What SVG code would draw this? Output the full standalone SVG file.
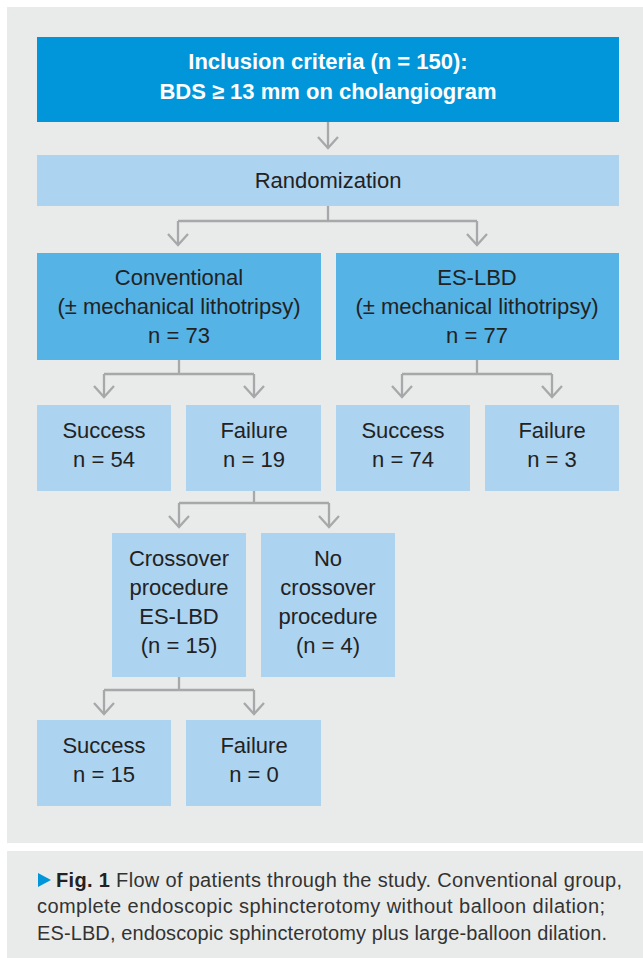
<svg xmlns="http://www.w3.org/2000/svg" width="643" height="958" viewBox="0 0 643 958">
<defs>
<style>
.t{font-family:"Liberation Sans",Arial,sans-serif;font-size:22px;fill:#222;text-anchor:middle}
.w{fill:#fff;font-weight:bold}
.dark{fill:#0096d9}
.mid{fill:#55b3e5}
.light{fill:#acd3f0}
.c{fill:none;stroke:#a6a8a9;stroke-width:2.3}
.cap{font-family:"Liberation Sans",Arial,sans-serif;font-size:20px;fill:#333}
</style>
<marker id="ah" markerWidth="16" markerHeight="26" viewBox="-13 -13 16 26" refX="0" refY="0" orient="auto" markerUnits="userSpaceOnUse">
<path d="M-11,-10 L0,0 L-11,10" fill="none" stroke="#a6a8a9" stroke-width="2.3"/>
</marker>
</defs>
<rect x="0" y="0" width="643" height="958" fill="#fff"/>
<rect x="7" y="7" width="636" height="836" fill="#e9ebeb"/>
<rect x="7" y="851" width="636" height="107" fill="#e9ebeb"/>

<g id="connectors">
<path class="c" d="M328,122 V148" marker-end="url(#ah)"/>
<path class="c" d="M328,206 V221 M178,221 H477"/>
<path class="c" d="M178,221 V245" marker-end="url(#ah)"/>
<path class="c" d="M477,221 V245" marker-end="url(#ah)"/>
<path class="c" d="M179,360 V374 M104,374 H254"/>
<path class="c" d="M104,374 V397" marker-end="url(#ah)"/>
<path class="c" d="M254,374 V397" marker-end="url(#ah)"/>
<path class="c" d="M477,360 V374 M402,374 H552"/>
<path class="c" d="M402,374 V397" marker-end="url(#ah)"/>
<path class="c" d="M552,374 V397" marker-end="url(#ah)"/>
<path class="c" d="M254,491 V503 M179,503 H329"/>
<path class="c" d="M179,503 V527" marker-end="url(#ah)"/>
<path class="c" d="M329,503 V527" marker-end="url(#ah)"/>
<path class="c" d="M179,677 V690 M104,690 H254"/>
<path class="c" d="M104,690 V714" marker-end="url(#ah)"/>
<path class="c" d="M254,690 V714" marker-end="url(#ah)"/>
</g>

<g id="inclusion">
<rect class="dark" x="37" y="37" width="582" height="85"/>
<text class="t w" x="328" y="69">Inclusion criteria (n = 150):</text>
<text class="t w" x="328" y="99">BDS ≥ 13 mm on cholangiogram</text>
</g>
<g id="randomization">
<rect class="light" x="37" y="155" width="582" height="51"/>
<text class="t" x="328" y="188">Randomization</text>
</g>
<g id="conventional">
<rect class="mid" x="37" y="253" width="284" height="107"/>
<text class="t" x="179" y="285">Conventional</text>
<text class="t" x="179" y="314">(± mechanical lithotripsy)</text>
<text class="t" x="179" y="343">n = 73</text>
</g>
<g id="eslbd">
<rect class="mid" x="336" y="253" width="283" height="107"/>
<text class="t" x="477" y="285">ES-LBD</text>
<text class="t" x="477" y="314">(± mechanical lithotripsy)</text>
<text class="t" x="477" y="343">n = 77</text>
</g>
<g id="conv-success">
<rect class="light" x="37" y="405" width="134" height="86"/>
<text class="t" x="104" y="438">Success</text>
<text class="t" x="104" y="467">n = 54</text>
</g>
<g id="conv-failure">
<rect class="light" x="186" y="405" width="135" height="86"/>
<text class="t" x="254" y="438">Failure</text>
<text class="t" x="254" y="467">n = 19</text>
</g>
<g id="es-success">
<rect class="light" x="336" y="405" width="134" height="86"/>
<text class="t" x="403" y="438">Success</text>
<text class="t" x="403" y="467">n = 74</text>
</g>
<g id="es-failure">
<rect class="light" x="485" y="405" width="134" height="86"/>
<text class="t" x="552" y="438">Failure</text>
<text class="t" x="552" y="467">n = 3</text>
</g>
<g id="crossover">
<rect class="light" x="112" y="533" width="134" height="144"/>
<text class="t" x="179" y="566">Crossover</text>
<text class="t" x="179" y="595">procedure</text>
<text class="t" x="179" y="624">ES-LBD</text>
<text class="t" x="179" y="653">(n = 15)</text>
</g>
<g id="no-crossover">
<rect class="light" x="261" y="533" width="134" height="144"/>
<text class="t" x="328" y="566">No</text>
<text class="t" x="328" y="595">crossover</text>
<text class="t" x="328" y="624">procedure</text>
<text class="t" x="328" y="653">(n = 4)</text>
</g>
<g id="cross-success">
<rect class="light" x="37" y="720" width="134" height="86"/>
<text class="t" x="104" y="753">Success</text>
<text class="t" x="104" y="782">n = 15</text>
</g>
<g id="cross-failure">
<rect class="light" x="186" y="720" width="135" height="86"/>
<text class="t" x="254" y="753">Failure</text>
<text class="t" x="254" y="782">n = 0</text>
</g>

<g id="caption">
<path d="M38,873 L51,880 L38,887 Z" fill="#0096d9"/>
<text class="cap" x="56" y="887" textLength="566" lengthAdjust="spacing"><tspan font-weight="bold" fill="#222">Fig. 1</tspan><tspan dx="6">Flow of patients through the study. Conventional group,</tspan></text>
<text class="cap" x="37" y="913" textLength="568" lengthAdjust="spacing">complete endoscopic sphincterotomy without balloon dilation;</text>
<text class="cap" x="37" y="940" textLength="570" lengthAdjust="spacing">ES-LBD, endoscopic sphincterotomy plus large-balloon dilation.</text>
</g>
</svg>
